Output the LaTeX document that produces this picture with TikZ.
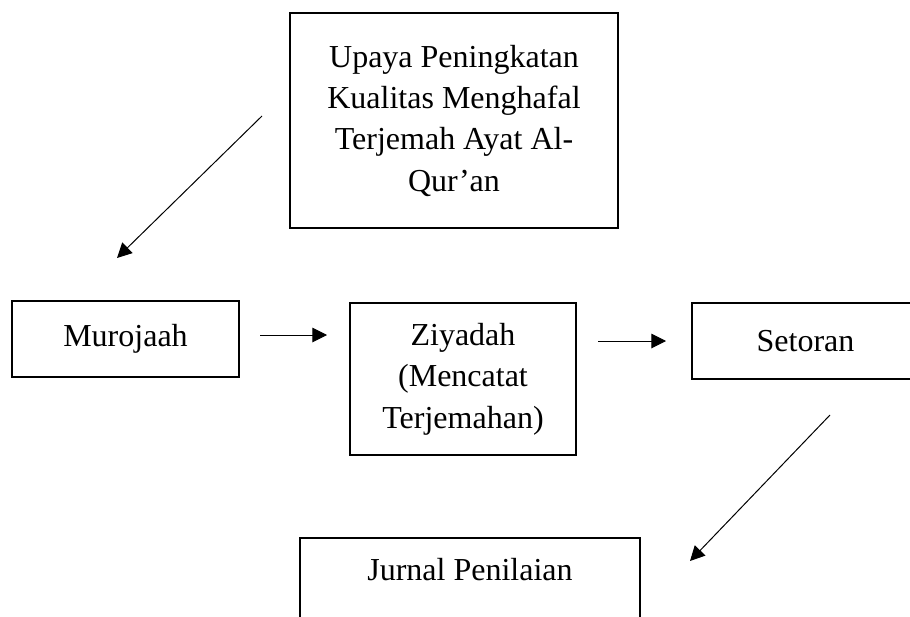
\documentclass[tikz,border=0pt]{standalone}
\usepackage{fontspec}
\setmainfont{Liberation Serif}
\usepackage{tikz}
\usetikzlibrary{arrows.meta, positioning}

\begin{document}
\begin{tikzpicture}[x=0.75pt, y=-0.75pt,
  every node/.style={rectangle, draw=black, line width=1.5pt, align=center, inner sep=0pt,
    font=\fontsize{24}{31}\selectfont},
  link/.style={-{Triangle[length=11pt, width=11pt]}, line width=0.75pt}]
\useasboundingbox (0,0) rectangle (910,617);
\clip (0,0) rectangle (910,617);

\node (upaya) [minimum width=246pt, minimum height=161.25pt] at (454,120.5)
  {Upaya Peningkatan\\Kualitas Menghafal\\Terjemah Ayat Al-\\Qur’an};
\node (murojaah) [minimum width=170.25pt, minimum height=57pt] at (125.5,339) {Murojaah};
\node (ziyadah) [minimum width=169.5pt, minimum height=114pt] at (463,379)
  {Ziyadah\\(Mencatat\\Terjemahan)};
\node (setoran) [minimum width=170.25pt, minimum height=57pt] at (805.5,341) {Setoran};
\node (jurnal) [anchor=north, minimum width=255pt, inner ysep=15pt, text height=17pt, text depth=60pt]
  at (470,537) {Jurnal Penilaian};

% free-standing arrows between the boxes
\coordinate (a1s) at (262,116);
\coordinate (a1e) at (117,258);
\coordinate (a2s) at (260,335);
\coordinate (a2e) at (327,335);
\coordinate (a3s) at (598,341);
\coordinate (a3e) at (666,341);
\coordinate (a4s) at (830,415);
\coordinate (a4e) at (690,561);

\draw [link] (a1s) -- (a1e);
\draw [link] (a2s) -- (a2e);
\draw [link] (a3s) -- (a3e);
\draw [link] (a4s) -- (a4e);
\end{tikzpicture}
\end{document}
